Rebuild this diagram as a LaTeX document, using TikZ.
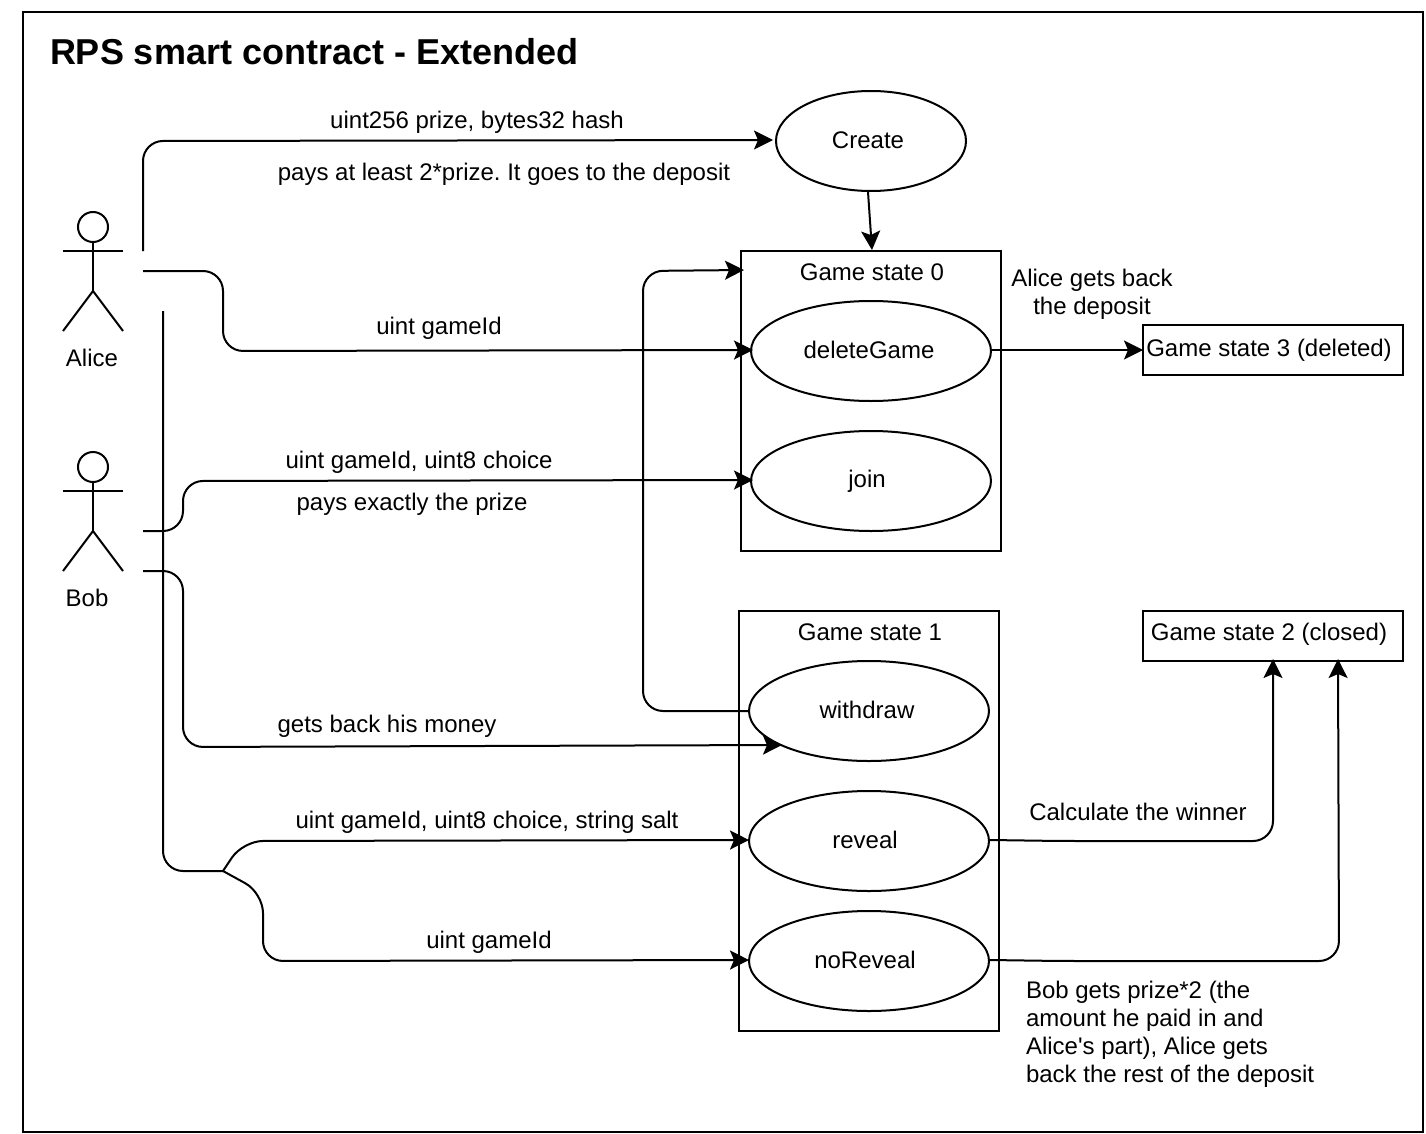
\documentclass[tikz,border=0pt]{standalone}
\usepackage{fontspec}
\setmainfont{Liberation Sans}
\newfontfamily\straightfont{Liberation Sans}
\frenchspacing
\usetikzlibrary{shapes.geometric,arrows.meta}
\tikzset{
 x=1pt,y=-1pt,
 every path/.style={line width=2pt},
 lbl/.style={inner sep=0pt,align=left,font=\fontsize{24}{28}\selectfont},
 usecase/.style={draw,ellipse,inner sep=0pt,font=\fontsize{24}{28}\selectfont},
 statebox/.style={draw,rectangle,inner sep=0pt,minimum width=260pt},
 flow/.style={-{Stealth[length=19pt,width=19pt,inset=4pt]},rounded corners=20pt},
 plain/.style={rounded corners=20pt},
}
\newcommand{\actor}[2]{%
 \draw (#1,#2) circle[radius=15];
 \draw (#1,#2+15) -- (#1,#2+64);
 \draw (#1-30,#2+24) -- (#1+30,#2+24);
 \draw (#1-30,#2+104) -- (#1,#2+64) -- (#1+30,#2+104);
}
\newcommand{\ctext}[3]{\raisebox{#3pt}{#1}\kern#2pt}
\begin{document}
\begin{tikzpicture}
\useasboundingbox (0,0) rectangle (1426,1134);
\node[draw,rectangle,inner sep=0pt,minimum width=1400pt,minimum height=1120pt] (frame) at (723,572) {};
\node[inner sep=0pt,anchor=west,font=\fontsize{36}{40}\selectfont\bfseries] (title) at (49,52) {RPS smart contract - Extended};

\actor{93}{227}
\actor{93}{467}
\node[lbl] (alice) at (92,358) {Alice};
\node[lbl] (bob) at (87,598) {Bob};

\node[usecase,minimum width=190pt,minimum height=100pt] (create) at (871,141) {\ctext{Create}{6}{1}};
\node[statebox,minimum height=300pt] (gs0) at (871,401) {};
\node[lbl] (gs0t) at (872,272) {Game state 0};
\node[usecase,minimum width=240pt,minimum height=100pt] (del) at (871,351) {\ctext{deleteGame}{4}{2}};
\node[usecase,minimum width=240pt,minimum height=100pt] (join) at (871,481) {\ctext{join}{8}{0}};
\node[statebox,minimum height=50pt] (gs3) at (1273,350) {};
\node[lbl] (gs3t) at (1269,350) {Game state 3 (deleted)};
\node[statebox,minimum height=420pt] (gs1) at (869,821) {};
\node[lbl] (gs1t) at (870,632) {Game state 1};
\node[usecase,minimum width=240pt,minimum height=100pt] (wd) at (869,711) {\ctext{withdraw}{4}{2}};
\node[usecase,minimum width=240pt,minimum height=100pt] (rev) at (869,841) {\ctext{reveal}{8}{2}};
\node[usecase,minimum width=240pt,minimum height=100pt] (nor) at (869,961) {\ctext{noReveal}{8}{2}};
\node[statebox,minimum height=50pt] (gs2) at (1273,636) {};
\node[lbl] (gs2t) at (1269,634) {Game state 2 (closed)};

\coordinate (a1) at (143,251);
\coordinate (a2) at (143,271);
\coordinate (a3) at (163,311);
\coordinate (b1) at (143,531);
\coordinate (b2) at (143,571);
\coordinate (fork) at (223,871);
\coordinate (gs0in) at (744,270);
\coordinate (gs3in) at (1143,350);
\coordinate (wdin) at (782,745);
\coordinate (delin) at (753,350);
\coordinate (joinin) at (753,480);
\coordinate (createin) at (773,140);
\coordinate (gs0top) at (872,250);
\coordinate (w2) at (1338,659);
\coordinate (w1) at (1273,659);
\coordinate (revin) at (749,840);
\coordinate (norin) at (749,960);

\draw[flow] (a1) -- (143,141) -- (createin);
\draw[flow] (create.south) ++(-3,0) -- (gs0top);
\draw[flow] (a2) -- (223,271) -- (223,351) -- (delin);
\draw[flow] ([yshift=1pt]del.east) -- (gs3in);
\draw[flow] (b1) -- (183,531) -- (183,481) -- (joinin);
\draw[flow] (b2) -- (183,571) -- (183,747) -- (wdin);
\draw[flow] (wd.west) -- (643,711) -- (643,271) -- (gs0in);
\draw[plain] (a3) -- (163,871) -- (fork);
\draw[flow] (fork) -- (243,841) -- (revin);
\draw[flow] (fork) -- (263,893) -- (263,961) -- (norin);
\draw[flow] ([yshift=1pt]rev.east) -- (1060,841) -- (1273,841) -- (w1);
\draw[flow] ([yshift=1pt]nor.east) -- (1060,961) -- (1339,961) -- (w2);

\node[lbl] (l1) at (477,122) {uint256 prize, bytes32 hash};
\node[lbl] (l2) at (504,174) {pays at least 2*prize. It goes to the deposit};
\node[lbl] (l3) at (439,328) {uint gameId};
\node[lbl,align=center] (l4) at (1092,294) {Alice gets back\\the deposit};
\node[lbl] (l5) at (419,462) {uint gameId, uint8 choice};
\node[lbl] (l6) at (412,504) {pays exactly the prize};
\node[lbl] (l7) at (387,726) {gets back his money};
\node[lbl] (l8) at (487,822) {uint gameId, uint8 choice, string salt};
\node[lbl] (l9) at (489,942) {uint gameId};
\node[lbl] (l10) at (1138,812) {Calculate the winner};
\node[lbl,anchor=north west] (l11) at (1025,980) {Bob gets prize*2 (the\\amount he paid in and\\Alice{\straightfont'}s part), Alice gets\\back the rest of the deposit};
\end{tikzpicture}
\end{document}
